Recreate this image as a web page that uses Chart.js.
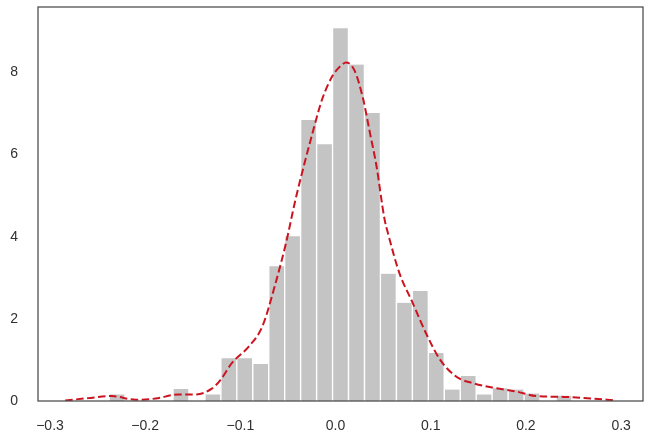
<!DOCTYPE html>
<html>
<head>
<meta charset="utf-8">
<script src="https://cdn.jsdelivr.net/npm/chart.js@4"></script>
<style>
  html, body { margin: 0; padding: 0; background: #fff; }
  #wrap { width: 648px; height: 435px; }
</style>
</head>
<body>
<div id="wrap"><canvas id="myChart" width="648" height="435"></canvas></div>
<script>
// histogram bins (centres) and density heights
const binCenters = [
  -0.2295, -0.2127, -0.1960, -0.1792, -0.1624, -0.1457, -0.1289,
  -0.1121, -0.0954, -0.0786, -0.0618, -0.0451, -0.0283, -0.0115,
  0.0052, 0.0220, 0.0388, 0.0555, 0.0723, 0.0891, 0.1058,
  0.1226, 0.1394, 0.1561, 0.1729, 0.1897, 0.2064, 0.2232, 0.2400
];
const binHeights = [
  0.16, 0, 0, 0, 0.29, 0, 0.16,
  1.04, 1.04, 0.90, 3.28, 4.01, 6.84, 6.25,
  9.07, 8.19, 7.01, 3.10, 2.39, 2.68, 1.17,
  0.28, 0.61, 0.16, 0.31, 0.28, 0.18, 0, 0.13
];

// kde curve
const kdeX = [
  -0.284, -0.260, -0.235, -0.210, -0.189, -0.165, -0.147, -0.130, -0.121,
  -0.109, -0.091, -0.077, -0.063, -0.052, -0.042, -0.024, -0.014, -0.003,
  0.0075, 0.011, 0.020, 0.029, 0.036, 0.043, 0.0515, 0.055, 0.067, 0.081,
  0.095, 0.110, 0.127, 0.145, 0.169, 0.190, 0.211, 0.240, 0.268, 0.292
];
const kdeY = [
  0.01, 0.07, 0.12, 0.03, 0.06, 0.16, 0.16, 0.30, 0.51,
  0.92, 1.33, 1.81, 2.87, 3.85, 4.91, 6.54, 7.35, 7.92,
  8.20, 8.24, 8.04, 7.35, 6.54, 5.72, 4.42, 4.09, 3.12, 2.39,
  1.65, 1.00, 0.59, 0.43, 0.31, 0.23, 0.12, 0.10, 0.06, 0.02
];

const xTicks = [-0.3, -0.2, -0.1, 0.0, 0.1, 0.2, 0.3];
const yTicks = [0, 2, 4, 6, 8];

const txt = '#303030';
const font = { family: '"Liberation Sans", Arial, sans-serif', size: 14 };

const frame = {
  id: 'frame',
  afterDraw(chart) {
    const a = chart.chartArea, c = chart.ctx;
    c.save();
    c.strokeStyle = '#4a4a4a';
    c.lineWidth = 1.25;
    c.strokeRect(a.left, a.top, a.right - a.left, a.bottom - a.top);
    c.restore();
  }
};

new Chart(document.getElementById('myChart'), {
  type: 'bar',
  data: {
    datasets: [
      {
        type: 'line',
        data: kdeX.map((x, i) => ({ x: x, y: kdeY[i] })),
        borderColor: '#cc1420',
        borderWidth: 2,
        borderDash: [7.5, 3.5],
        pointRadius: 0,
        fill: false,
        cubicInterpolationMode: 'monotone',
        order: 0
      },
      {
        type: 'bar',
        data: binCenters.map((x, i) => ({ x: x, y: binHeights[i] })),
        backgroundColor: '#c4c4c4',
        borderColor: '#ffffff',
        borderWidth: { left: 1, right: 1, top: 0, bottom: 0 },
        barPercentage: 1,
        categoryPercentage: 1,
        order: 1
      }
    ]
  },
  options: {
    responsive: false,
    animation: false,
    layout: { padding: { left: 0, right: 5, top: 7, bottom: 0 } },
    plugins: { legend: { display: false }, tooltip: { enabled: false } },
    scales: {
      x: {
        type: 'linear',
        min: -0.3126,
        max: 0.323,
        offset: false,
        grid: { display: false },
        border: { display: false },
        afterBuildTicks: s => { s.ticks = xTicks.map(v => ({ value: v })); },
        afterFit: s => { s.height = 34; s.paddingLeft = 0; s.paddingRight = 0; },
        ticks: {
          color: txt, font: font, padding: 9, maxRotation: 0, autoSkip: false,
          callback: v => v.toFixed(1).replace('-', '\u2212')
        }
      },
      y: {
        min: 0,
        max: 9.59,
        grid: { display: false },
        border: { display: false },
        afterBuildTicks: s => { s.ticks = yTicks.map(v => ({ value: v })); },
        afterFit: s => { s.width = 38; s.paddingTop = 0; s.paddingBottom = 0; },
        ticks: { color: txt, font: font, padding: 12, callback: v => String(v) }
      }
    }
  },
  plugins: [frame]
});
</script>
</body>
</html>
